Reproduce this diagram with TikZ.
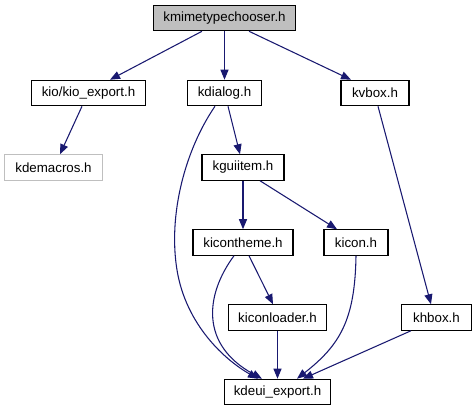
\documentclass[tikz,border=0pt]{standalone}
\usepackage{fontspec}
\setmainfont{Liberation Sans}
\usetikzlibrary{arrows.meta,calc}
\begin{document}
\begin{tikzpicture}[x=0.75pt,y=-0.75pt,
  box/.style={draw=black,line width=0.9pt,fill=white,inner sep=0pt,minimum height=19pt,font=\fontsize{10}{12}\selectfont},
  edge/.style={draw={rgb,255:red,25;green,25;blue,112},line width=0.8pt,-{Triangle[length=7.5pt,width=6pt]}}]
\useasboundingbox (0,0) rectangle (476,411);
\node[box,fill={rgb,255:red,191;green,191;blue,191},minimum width=107pt] (top) at (224.5,18) {kmimetypechooser.h};
\node[box,minimum width=86pt] (kio) at (88.5,93) {kio/kio\_export.h};
\node[box,minimum width=56pt] (kdialog) at (224.5,93) {kdialog.h};
\node[box,minimum width=51pt] (kvbox) at (375,93) {kvbox.h};
\node[box,draw={rgb,255:red,191;green,191;blue,191},minimum width=73pt] (kdemacros) at (53.5,167.5) {kdemacros.h};
\node[box,minimum width=61.5pt] (kguiitem) at (243,167.5) {kguiitem.h};
\node[box,minimum width=75pt] (kicontheme) at (243,242.5) {kicontheme.h};
\node[box,minimum width=48pt] (kicon) at (356,242.5) {kicon.h};
\node[box,minimum width=74pt] (kiconloader) at (277.5,317.5) {kiconloader.h};
\node[box,minimum width=52pt] (khbox) at (436.5,317.5) {khbox.h};
\node[box,minimum width=80pt] (kdeui) at (277.5,392) {kdeui\_export.h};

\draw[edge] ($(top.south)+(-22.5,0)$) -- ($(kio.north)+(21.5,0)$);
\draw[edge] (top.south) -- (kdialog.north);
\draw[edge] ($(top.south)+(24.5,0)$) -- ($(kvbox.north)+(-24,0)$);
\draw[edge] ($(kio.south)+(-6.5,0)$) -- ($(kdemacros.north)+(6.5,0)$);
\draw[edge] ($(kdialog.south)+(3.5,0)$) -- ($(kguiitem.north)+(-3,0)$);
\draw[edge] ($(kdialog.south)+(-9.5,0)$) .. controls (185,150) and (168,215) .. (177,270) .. controls (186,325) and (225,360) .. ($(kdeui.north)+(-19.5,0)$);
\draw[edge] (kguiitem.south) -- (kicontheme.north);
\draw[edge] ($(kguiitem.south)+(17,0)$) -- ($(kicon.north)+(-19,0)$);
\draw[edge] ($(kicontheme.south)+(6,0)$) -- ($(kiconloader.north)+(-4.5,0)$);
\draw[edge] ($(kicontheme.south)+(-9,0)$) .. controls (205,295) and (200,345) .. ($(kdeui.north)+(-15.5,0)$);
\draw[edge] (kiconloader.south) -- (kdeui.north);
\draw[edge] (kicon.south) .. controls (355,320) and (340,345) .. ($(kdeui.north)+(19.5,0)$);
\draw[edge] ($(kvbox.south)+(3,0)$) -- ($(khbox.north)+(-5.5,0)$);
\draw[edge] ($(khbox.south)+(-25.5,0)$) -- ($(kdeui.north)+(25.5,0)$);
\end{tikzpicture}
\end{document}
